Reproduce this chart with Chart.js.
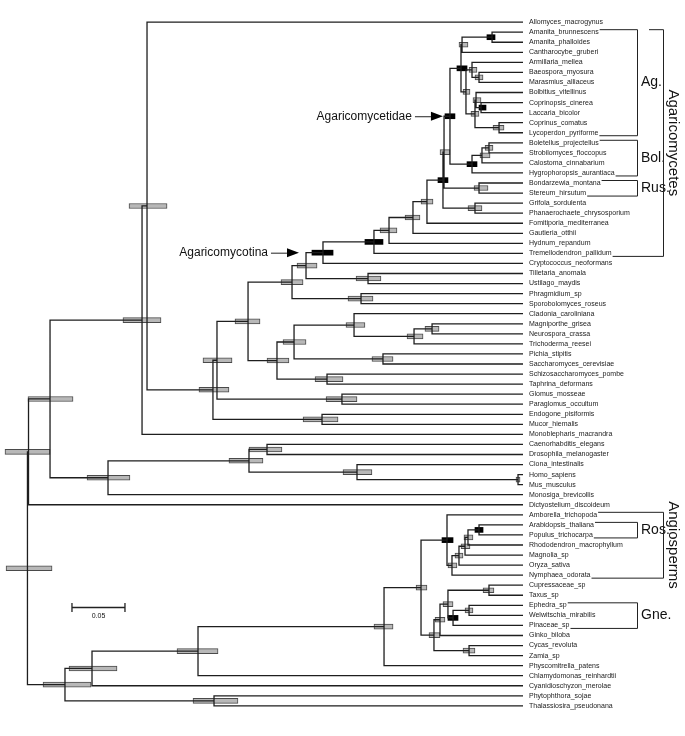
<!DOCTYPE html>
<html>
<head>
<meta charset="utf-8">
<script src="https://cdn.jsdelivr.net/npm/chart.js@4.4.1/dist/chart.umd.min.js"></script>
<style>
html, body { margin: 0; padding: 0; background: #fff; }
#wrap { width: 685px; height: 736px; position: relative; }
</style>
</head>
<body>
<div id="wrap"><canvas id="tree"></canvas></div>
<script>
// leaf names, top to bottom
const taxa = [
  'Allomyces_macrogynus', 'Amanita_brunnescens', 'Amanita_phalloides', 'Cantharocybe_gruberi',
  'Armillaria_mellea', 'Baeospora_myosura', 'Marasmius_alliaceus', 'Bolbitius_vitellinus',
  'Coprinopsis_cinerea', 'Laccaria_bicolor', 'Coprinus_comatus', 'Lycoperdon_pyriforme',
  'Boletellus_projectellus', 'Strobilomyces_floccopus', 'Calostoma_cinnabarium', 'Hygrophoropsis_aurantiaca',
  'Bondarzewia_montana', 'Stereum_hirsutum', 'Grifola_sordulenta', 'Phanaerochaete_chrysosporium',
  'Fomitiporia_mediterranea', 'Gautieria_otthii', 'Hydnum_repandum', 'Tremellodendron_pallidum',
  'Cryptococcus_neoformans', 'Tilletaria_anomala', 'Ustilago_maydis', 'Phragmidium_sp',
  'Sporobolomyces_roseus', 'Cladonia_caroliniana', 'Magniporthe_grisea', 'Neurospora_crassa',
  'Trichoderma_reesei', 'Pichia_stipitis', 'Saccharomyces_cerevisiae', 'Schizosaccharomyces_pombe',
  'Taphrina_deformans', 'Glomus_mosseae', 'Paraglomus_occultum', 'Endogone_pisiformis',
  'Mucor_hiemalis', 'Monoblepharis_macrandra', 'Caenorhabditis_elegans', 'Drosophila_melanogaster',
  'Ciona_intestinalis', 'Homo_sapiens', 'Mus_musculus', 'Monosiga_brevicollis',
  'Dictyostelium_discoideum', 'Amborella_trichopoda', 'Arabidopsis_thaliana', 'Populus_trichocarpa',
  'Rhododendron_macrophyllum', 'Magnolia_sp', 'Oryza_sativa', 'Nymphaea_odorata',
  'Cupressaceae_sp', 'Taxus_sp', 'Ephedra_sp', 'Welwitschia_mirabilis',
  'Pinaceae_sp', 'Ginko_biloba', 'Cycas_revoluta', 'Zamia_sp',
  'Physcomitrella_patens', 'Chlamydomonas_reinhardtii', 'Cyanidioschyzon_merolae', 'Phytophthora_sojae',
  'Thalassiosira_pseudonana'
];

// internal nodes: [age, interval young end, interval old end, calibrated (1/0), children...]
// a child is either a taxa index or another node
const amanita   = [0.0292, 0.0264, 0.0340, 1, 1, 2];
const amCantha  = [0.0575, 0.0519, 0.0604, 0, amanita, 3];
const baeoMaras = [0.0415, 0.0377, 0.0453, 0, 5, 6];
const marasm    = [0.0481, 0.0434, 0.0509, 0, 4, baeoMaras];
const coprLacc  = [0.0396, 0.0349, 0.0415, 1, 8, 9];
const bolbit    = [0.0443, 0.0396, 0.0472, 0, 7, coprLacc];
const coprLyco  = [0.0226, 0.0179, 0.0283, 0, 10, 11];
const agaricoid = [0.0453, 0.0415, 0.0491, 0, bolbit, coprLyco];
const marAgar   = [0.0538, 0.0500, 0.0566, 0, marasm, agaricoid];
const agaricales = [0.0585, 0.0528, 0.0623, 1, amCantha, marAgar];
const bolStrob  = [0.0321, 0.0283, 0.0358, 0, 12, 13];
const bolCalo   = [0.0387, 0.0311, 0.0406, 0, bolStrob, 14];
const boletales = [0.0481, 0.0434, 0.0528, 1, bolCalo, 15];
const agaricomycetidae = [0.0689, 0.0642, 0.0736, 1, agaricales, boletales];
const russulales = [0.0415, 0.0330, 0.0462, 0, 16, 17];
const agRuss    = [0.0745, 0.0689, 0.0783, 0, agaricomycetidae, russulales];
const polypor   = [0.0453, 0.0387, 0.0519, 0, 18, 19];
const agPoly    = [0.0755, 0.0708, 0.0802, 1, agRuss, polypor];
const fomit     = [0.0906, 0.0849, 0.0962, 0, agPoly, 20];
const gaut      = [0.1038, 0.0972, 0.1113, 0, fomit, 21];
const hydnum    = [0.1264, 0.1189, 0.1349, 0, gaut, 22];
const agaricomycetes = [0.1406, 0.1321, 0.1491, 1, hydnum, 23];
const agaricomycotina = [0.1887, 0.1792, 0.1991, 1, agaricomycetes, 24];
const ustilag   = [0.1462, 0.1340, 0.1575, 0, 25, 26];
const agUst     = [0.2047, 0.1943, 0.2132, 0, agaricomycotina, ustilag];
const puccin    = [0.1528, 0.1415, 0.1651, 0, 27, 28];
const basidio   = [0.2179, 0.2075, 0.2283, 0, agUst, puccin];
const magNeuro  = [0.0858, 0.0792, 0.0925, 0, 30, 31];
const sordario  = [0.1028, 0.0943, 0.1094, 0, magNeuro, 32];
const pezizo    = [0.1594, 0.1491, 0.1670, 0, 29, sordario];
const saccharo  = [0.1321, 0.1226, 0.1425, 0, 33, 34];
const pezSacch  = [0.2160, 0.2047, 0.2264, 0, pezizo, saccharo];
const taphrino  = [0.1849, 0.1698, 0.1962, 0, 35, 36];
const asco      = [0.2321, 0.2208, 0.2415, 0, pezSacch, taphrino];
const dikarya   = [0.2594, 0.2481, 0.2717, 0, basidio, asco];
const glomero   = [0.1708, 0.1566, 0.1858, 0, 37, 38];
const dikGlom   = [0.2887, 0.2745, 0.3019, 0, dikarya, glomero];
const mucoro    = [0.1896, 0.1745, 0.2075, 0, 39, 40];
const terrFungi = [0.2925, 0.2774, 0.3057, 0, dikGlom, mucoro];
const allomy    = [0.3547, 0.3358, 0.3717, 0, 0, terrFungi];
const fungi     = [0.3594, 0.3415, 0.3774, 0, allomy, 41];
const homoMus   = [0.0047, 0.0028, 0.0066, 0, 45, 46];
const chordata  = [0.1566, 0.1425, 0.1698, 0, 44, homoMus];
const ecdyso    = [0.2415, 0.2274, 0.2585, 0, 42, 43];
const bilateria = [0.2585, 0.2453, 0.2774, 0, ecdyso, chordata];
const holozoa   = [0.3915, 0.3708, 0.4113, 0, bilateria, 47];
const opistho   = [0.4462, 0.4245, 0.4670, 0, fungi, holozoa];
const unikonts  = [0.4665, 0.4462, 0.4887, 0, opistho, 48];
const rosids    = [0.0415, 0.0377, 0.0453, 1, 50, 51];
const eudicot   = [0.0519, 0.0472, 0.0557, 0, rosids, 52];
const magnol    = [0.0547, 0.0500, 0.0585, 0, eudicot, 53];
const monocot   = [0.0604, 0.0566, 0.0642, 0, magnol, 54];
const nymph     = [0.0670, 0.0623, 0.0708, 0, monocot, 55];
const angio     = [0.0717, 0.0660, 0.0764, 1, 49, nymph];
const cupTaxus  = [0.0321, 0.0274, 0.0377, 0, 56, 57];
const ephWelw   = [0.0509, 0.0472, 0.0547, 0, 58, 59];
const gnePin    = [0.0660, 0.0613, 0.0708, 1, ephWelw, 60];
const conifers  = [0.0708, 0.0660, 0.0755, 0, cupTaxus, gnePin];
const ginkgo    = [0.0783, 0.0736, 0.0830, 0, conifers, 61];
const cycads    = [0.0509, 0.0453, 0.0566, 0, 62, 63];
const gymno     = [0.0840, 0.0783, 0.0887, 0, ginkgo, cycads];
const seedPl    = [0.0962, 0.0906, 0.1009, 0, angio, gymno];
const landPl    = [0.1311, 0.1226, 0.1406, 0, seedPl, 64];
const greenPl   = [0.3066, 0.2877, 0.3264, 0, landPl, 65];
const plantae   = [0.4066, 0.3830, 0.4283, 0, greenPl, 66];
const strameno  = [0.2915, 0.2689, 0.3113, 0, 67, 68];
const bikonts   = [0.4321, 0.4075, 0.4528, 0, plantae, strameno];
const root      = [0.4675, 0.4443, 0.4877, 0, unikonts, bikonts];

// clade brackets: [label, first taxon, last taxon]
const smallClades = [['Ag.', 1, 11], ['Bol.', 12, 15], ['Rus.', 16, 17], ['Ros.', 50, 51], ['Gne.', 58, 60]];
const bigClades = [['Agaricomycetes', 1, 23], ['Angiosperms', 49, 55]];
// arrowed node names
const pointers = [['Agaricomycotina', agaricomycotina, 24], ['Agaricomycetidae', agaricomycetidae, 7]];
const scaleBar = 0.05;

// walk the tree: node y is the middle of its first and last child
const branches = [];
const greyBars = [];
const blackBars = [];
const nodePos = new Map();
const gap = () => ({ x: NaN, y: NaN });

function layout(node) {
  if (typeof node === 'number') return { age: 0, y: node };
  const [age, lo, hi, cal, ...kids] = node;
  const pos = kids.map(layout);
  const y = (pos[0].y + pos[pos.length - 1].y) / 2;
  branches.push({ x: age, y: pos[0].y }, { x: age, y: pos[pos.length - 1].y }, gap());
  pos.forEach(p => branches.push({ x: age, y: p.y }, { x: p.age, y: p.y }, gap()));
  (cal ? blackBars : greyBars).push({ y: y, x: [lo, hi] });
  nodePos.set(node, { age, y });
  return { age, y };
}
layout(root);

const FONT = '"Liberation Sans", Arial, Helvetica, sans-serif';

const notes = {
  id: 'notes',
  afterDraw(chart) {
    const { ctx, scales: { x, y } } = chart;
    ctx.save();
    ctx.strokeStyle = '#222';
    ctx.fillStyle = '#111';
    ctx.lineWidth = 1;

    ctx.font = '7px ' + FONT;
    const labelEnd = i => x.right + 6 + ctx.measureText(taxa[i]).width + 1;

    // small brackets
    const innerX = x.right + 114;
    smallClades.forEach(([name, a, b]) => {
      const yt = y.getPixelForValue(a) - 3, yb = y.getPixelForValue(b) + 2.5;
      ctx.beginPath();
      ctx.moveTo(labelEnd(a), yt + 0.5);
      ctx.lineTo(innerX + 0.5, yt + 0.5);
      ctx.lineTo(innerX + 0.5, yb + 0.5);
      ctx.lineTo(labelEnd(b), yb + 0.5);
      ctx.stroke();
    });
    ctx.font = '14px ' + FONT;
    ctx.textBaseline = 'middle';
    ctx.textAlign = 'left';
    smallClades.forEach(([name, a, b]) => {
      const yc = (y.getPixelForValue(a) + y.getPixelForValue(b)) / 2;
      ctx.fillText(name, innerX + 4, yc);
    });

    // big brackets with rotated names
    const outerX = x.right + 140;
    ctx.font = '7px ' + FONT;
    bigClades.forEach(([name, a, b]) => {
      const yt = y.getPixelForValue(a) - 3, yb = y.getPixelForValue(b) + 2.5;
      const nested = smallClades.some(c => c[1] === a);
      ctx.beginPath();
      ctx.moveTo(nested ? innerX + 12 : labelEnd(a), yt + 0.5);
      ctx.lineTo(outerX + 0.5, yt + 0.5);
      ctx.lineTo(outerX + 0.5, yb + 0.5);
      ctx.lineTo(labelEnd(b), yb + 0.5);
      ctx.stroke();
    });
    ctx.font = '15px ' + FONT;
    ctx.textAlign = 'center';
    bigClades.forEach(([name, a, b]) => {
      const yc = (y.getPixelForValue(a) + y.getPixelForValue(b)) / 2;
      ctx.save();
      ctx.translate(outerX + 10, yc);
      ctx.rotate(Math.PI / 2);
      ctx.fillText(name, 0, 0);
      ctx.restore();
    });

    // arrows to named nodes
    ctx.font = '12px ' + FONT;
    ctx.textAlign = 'right';
    pointers.forEach(([name, node, off]) => {
      const p = nodePos.get(node);
      const tip = x.getPixelForValue(p.age) - off;
      const py = y.getPixelForValue(p.y);
      ctx.beginPath();
      ctx.moveTo(tip, py);
      ctx.lineTo(tip - 12, py - 4.5);
      ctx.lineTo(tip - 12, py + 4.5);
      ctx.closePath();
      ctx.fillStyle = '#000';
      ctx.fill();
      ctx.beginPath();
      ctx.moveTo(tip - 12, py + 0.5);
      ctx.lineTo(tip - 28, py + 0.5);
      ctx.stroke();
      ctx.fillStyle = '#111';
      ctx.fillText(name, tip - 31, py);
    });

    // scale bar
    const x0 = x.getPixelForValue(0.4255), x1 = x.getPixelForValue(0.4255 - scaleBar);
    const sy = 607.5;
    ctx.lineWidth = 1.3;
    ctx.beginPath();
    ctx.moveTo(x0, sy); ctx.lineTo(x1, sy);
    ctx.moveTo(x0, sy - 4.5); ctx.lineTo(x0, sy + 4.5);
    ctx.moveTo(x1, sy - 4.5); ctx.lineTo(x1, sy + 4.5);
    ctx.stroke();
    ctx.font = '7px ' + FONT;
    ctx.textAlign = 'center';
    ctx.fillText(String(scaleBar), (x0 + x1) / 2, sy + 9);
    ctx.restore();
  }
};

new Chart(document.getElementById('tree'), {
  type: 'scatter',
  data: {
    datasets: [
      {
        type: 'scatter',
        data: branches,
        showLine: true,
        spanGaps: false,
        pointRadius: 0,
        borderColor: '#1e1e1e',
        borderWidth: 1.3,
        borderCapStyle: 'square',
        order: 0
      },
      {
        type: 'bar',
        indexAxis: 'y',
        data: greyBars,
        backgroundColor: '#b8b8b8',
        borderColor: '#4a4a4a',
        borderWidth: 1,
        borderSkipped: false,
        barThickness: 5,
        grouped: false,
        order: 1
      },
      {
        type: 'bar',
        indexAxis: 'y',
        data: blackBars,
        backgroundColor: '#000',
        borderWidth: 0,
        barThickness: 5,
        grouped: false,
        order: 1
      }
    ]
  },
  options: {
    responsive: true,
    maintainAspectRatio: false,
    animation: false,
    devicePixelRatio: 1,
    layout: { padding: { top: 12, bottom: 20, left: 0, right: 0 } },
    plugins: { legend: { display: false }, tooltip: { enabled: false } },
    scales: {
      x: { type: 'linear', display: false, reverse: true, min: 0, max: 0.4934 },
      y: {
        type: 'linear',
        position: 'right',
        reverse: true,
        min: -0.5,
        max: 68.5,
        grid: { display: false, drawTicks: false },
        border: { display: false },
        afterBuildTicks: s => { s.ticks = taxa.map((t, i) => ({ value: i })); },
        afterFit: s => { s.width = 162; },
        ticks: {
          autoSkip: false,
          padding: 6,
          color: '#222',
          font: { size: 7, family: FONT },
          callback: (v, i) => taxa[i]
        }
      }
    }
  },
  plugins: [notes]
});
</script>
</body>
</html>
